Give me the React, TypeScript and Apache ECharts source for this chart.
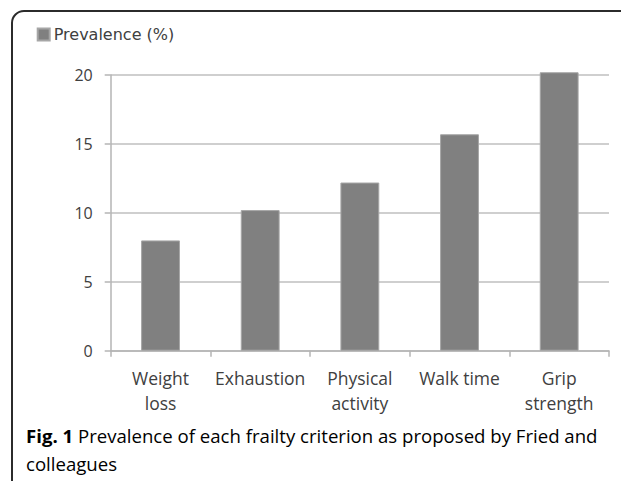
import React, { useEffect, useRef } from "react";
import * as echarts from "echarts";

const categories = ["Weight\nloss", "Exhaustion", "Physical\nactivity", "Walk time", "Grip\nstrength"];
const prevalence = [8.0, 10.2, 12.2, 15.7, 20.2];
const seriesName = "Prevalence (%)";
const captionBold = "Fig. 1";
const captionLine1 = " Prevalence of each frailty criterion as proposed by Fried and";
const captionLine2 = "colleagues";

export default function App() {
  const ref = useRef<HTMLDivElement>(null);
  useEffect(() => {
    if (!ref.current) return;
    const chart = echarts.init(ref.current, null, { renderer: "svg" });
    const font = "'Open Sans', 'Noto Sans', sans-serif";
    chart.setOption({
      animation: false,
      backgroundColor: "#ffffff",
      legend: {
        show: true,
        left: 36.7,
        top: 26.5,
        padding: 0,
        itemWidth: 12,
        itemHeight: 12,
        itemGap: 6,
        icon: "rect",
        textStyle: { fontFamily: "'DejaVu Sans', sans-serif", fontSize: 16, color: "#404040", padding: [0, 0, 0, -1] },
        data: [seriesName],
      },
      grid: { left: 110.7, right: 12, top: 75, bottom: 130.3 },
      xAxis: {
        type: "category",
        data: categories,
        axisLine: { lineStyle: { color: "#b4b4b4", width: 1.5 } },
        axisTick: { show: true, length: 6, alignWithLabel: false, lineStyle: { color: "#b4b4b4", width: 1.5 } },
        axisLabel: {
          fontFamily: font,
          fontSize: 17.5,
          color: "#404040",
          lineHeight: 25,
          margin: 14.5,
          interval: 0,
        },
      },
      yAxis: {
        type: "value",
        min: 0,
        max: 20,
        interval: 5,
        axisLine: { show: true, lineStyle: { color: "#b4b4b4", width: 1.5 } },
        axisTick: { show: true, length: 6, lineStyle: { color: "#b4b4b4", width: 1.5 } },
        axisLabel: { fontFamily: font, fontSize: 16, color: "#404040", margin: 18 },
        splitLine: { show: true, lineStyle: { color: "#bfbfbf", width: 1.5 } },
      },
      series: [
        {
          name: seriesName,
          type: "bar",
          data: prevalence,
          barWidth: "39%",
          clip: false,
          itemStyle: { color: "#808080", borderColor: "#a6a6a6", borderWidth: 1 },
        },
      ],
      graphic: [
        {
          type: "rect",
          shape: { x: 12, y: 11, width: 800, height: 800, r: [12, 0, 0, 0] },
          style: { fill: "none", stroke: "#2b2b2b", lineWidth: 2 },
          silent: true,
        },
        {
          type: "text",
          left: 26,
          top: 426,
          style: {
            text: "{b|" + captionBold + "}{n|" + captionLine1 + "}\n{n|" + captionLine2 + "}",
            rich: {
              b: { fontFamily: font, fontSize: 18.6, fontWeight: "bold", color: "#222222", lineHeight: 28 },
              n: { fontFamily: font, fontSize: 18.6, color: "#333333", lineHeight: 28 },
            },
          },
        },
      ],
    });
    return () => chart.dispose();
  }, []);
  return <div ref={ref} style={{ position: "fixed", left: 0, top: 0, width: 621, height: 481 }} />;
}
